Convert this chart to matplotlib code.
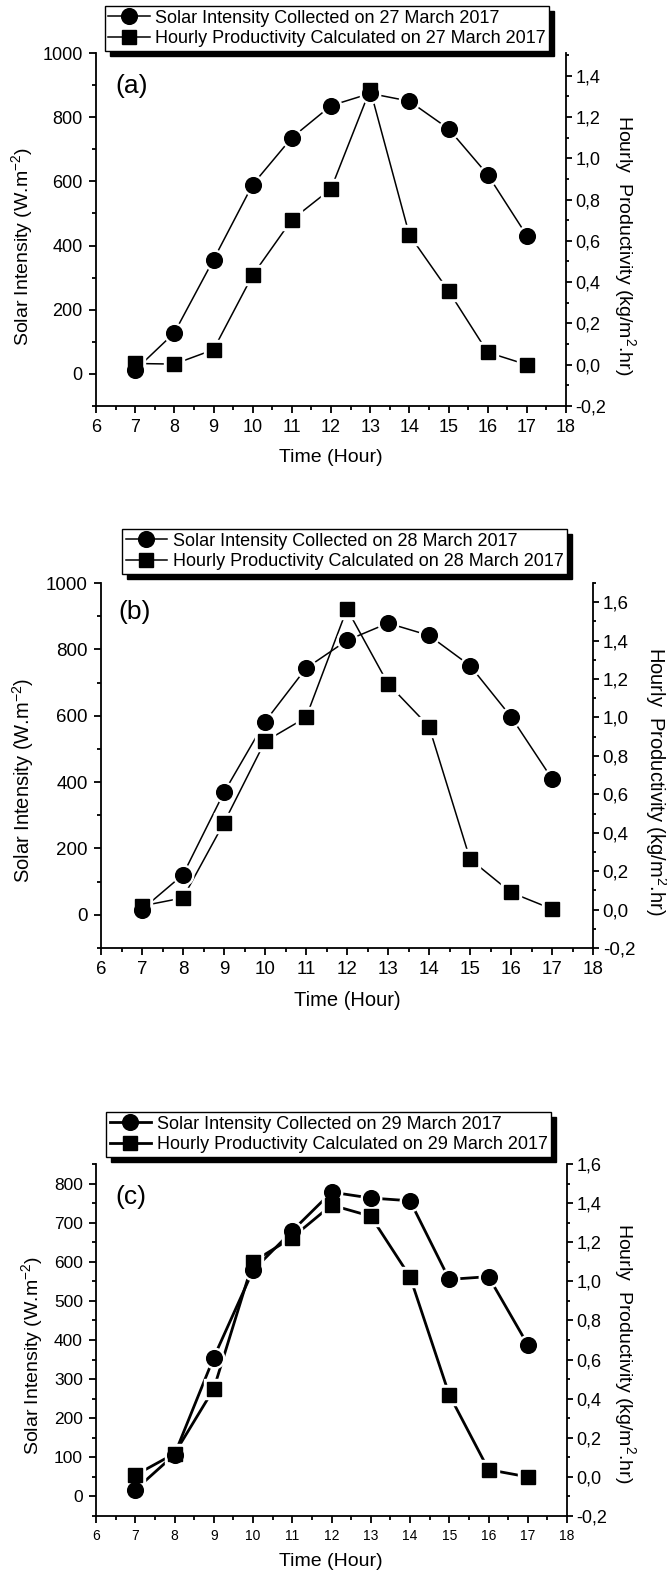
import matplotlib
matplotlib.use('Agg')
import matplotlib.pyplot as plt
from matplotlib.lines import Line2D
from matplotlib.ticker import MultipleLocator, FixedLocator, FuncFormatter

plt.rcParams['font.family'] = ['Liberation Sans', 'DejaVu Sans']
plt.rcParams['mathtext.fontset'] = 'custom'
plt.rcParams['mathtext.rm'] = 'Liberation Sans'
plt.rcParams['mathtext.it'] = 'Liberation Sans:italic'
plt.rcParams['mathtext.bf'] = 'Liberation Sans:bold'

# ---------------- data ----------------
hours = [7, 8, 9, 10, 11, 12, 13, 14, 15, 16, 17]

solar_a = [12, 128, 356, 590, 736, 836, 874, 850, 764, 621, 431]
prod_a = [0.006, 0.003, 0.073, 0.434, 0.702, 0.852, 1.333, 0.629, 0.358, 0.060, 0.0]

solar_b = [16, 121, 369, 582, 743, 827, 879, 842, 751, 597, 410]
prod_b = [0.019, 0.061, 0.452, 0.875, 1.0, 1.565, 1.176, 0.953, 0.263, 0.089, 0.003]

solar_c = [17, 107, 355, 578, 679, 778, 763, 756, 555, 562, 388]
prod_c = [0.009, 0.119, 0.45, 1.10, 1.224, 1.39, 1.333, 1.024, 0.42, 0.037, 0.0]

dates = ['27 March 2017', '28 March 2017', '29 March 2017']
letters = ['(a)', '(b)', '(c)']
x_ticks = [6, 7, 8, 9, 10, 11, 12, 13, 14, 15, 16, 17, 18]
left_ticks_ab = [0, 200, 400, 600, 800, 1000]
left_ticks_c = [0, 100, 200, 300, 400, 500, 600, 700, 800]
right_ticks_a = [-0.2, 0.0, 0.2, 0.4, 0.6, 0.8, 1.0, 1.2, 1.4]
right_ticks_bc = [-0.2, 0.0, 0.2, 0.4, 0.6, 0.8, 1.0, 1.2, 1.4, 1.6]

x_label = 'Time (Hour)'
y_label = 'Solar Intensity (W.m$^{-2}$)'
y2_label = 'Hourly  Productivity (kg/m$^{2}$.hr)'

# ---------------- layout ----------------
W, H = 667, 1571
fig = plt.figure(figsize=(W / 100, H / 100), dpi=100)


def fx(x):
    return x / W


def fy(y):
    return 1 - y / H


panels = [
    dict(solar=solar_a, prod=prod_a, date=dates[0], letter=letters[0],
         box=(96, 566, 53, 406), ylim=(-100, 1000), yticks=left_ticks_ab, yminor=100,
         y2lim=(-0.2, 1.51), y2ticks=right_ticks_a, lw=1.1, xfs=13, yfs=13, y2fs=13,
         leg=(327, 28.5), xlab=(331, 458), ylab=(22, 246), y2lab=(625, 245),
         letpos=(115, 86), labfs=14),
    dict(solar=solar_b, prod=prod_b, date=dates[1], letter=letters[1],
         box=(101, 593, 583, 948), ylim=(-100, 1000), yticks=left_ticks_ab, yminor=100,
         y2lim=(-0.2, 1.70), y2ticks=right_ticks_bc, lw=1.1, xfs=13.5, yfs=13.5, y2fs=13.5,
         leg=(344.5, 551.5), xlab=(347, 1001), ylab=(23, 780), y2lab=(656, 781),
         letpos=(118, 612), labfs=14.5),
    dict(solar=solar_c, prod=prod_c, date=dates[2], letter=letters[2],
         box=(96, 567, 1164, 1516), ylim=(-50, 850), yticks=left_ticks_c, yminor=50,
         y2lim=(-0.2, 1.6), y2ticks=right_ticks_bc, lw=2.0, xfs=10, yfs=12.5, y2fs=13,
         leg=(328.5, 1134.5), xlab=(331, 1562), ylab=(32, 1355), y2lab=(625, 1353),
         letpos=(115, 1197), labfs=14),
]


def comma_fmt(v, pos):
    s = '{:.1f}'.format(v).replace('.', ',')
    if s.startswith('-0,0'):
        s = '0,0'
    return s


for p in panels:
    l, r, t, b = p['box']
    ax = fig.add_axes([fx(l), fy(b), (r - l) / W, (b - t) / H])
    ax2 = ax.twinx()
    ax.set_xlim(6, 18)
    ax.set_ylim(*p['ylim'])
    ax2.set_ylim(*p['y2lim'])

    lw = p['lw']
    circ_ms, sq_ms, gap = 11.3, 10.3, 3.4
    # lines
    ax.plot(hours, p['solar'], '-', color='k', lw=lw, zorder=1, clip_on=False)
    ax.plot(hours, p['prod'], '-', color='k', lw=lw, zorder=1, clip_on=False,
            transform=ax2.transData)
    # white halos (gap between line and symbol)
    ax.plot(hours, p['prod'], 's', ms=sq_ms + gap, color='white', zorder=2,
            linestyle='none', clip_on=False, transform=ax2.transData)
    ax.plot(hours, p['solar'], 'o', ms=circ_ms + gap, color='white', zorder=2,
            linestyle='none', clip_on=False)
    # symbols
    ax.plot(hours, p['prod'], 's', ms=sq_ms, color='k', zorder=3,
            linestyle='none', clip_on=False, transform=ax2.transData)
    ax.plot(hours, p['solar'], 'o', ms=circ_ms, color='k', zorder=4,
            linestyle='none', clip_on=False)
    ax.set_xlim(6, 18)
    ax.set_ylim(*p['ylim'])
    ax2.set_ylim(*p['y2lim'])

    # spines
    for a in (ax, ax2):
        a.spines['top'].set_visible(False)
        for s in ('left', 'right', 'bottom'):
            a.spines[s].set_linewidth(1.3)
    ax.spines['right'].set_visible(False)
    ax2.spines['left'].set_visible(False)
    ax2.spines['bottom'].set_visible(False)

    # ticks
    ax.xaxis.set_major_locator(FixedLocator(x_ticks))
    ax.xaxis.set_minor_locator(MultipleLocator(0.5))
    ax.yaxis.set_major_locator(FixedLocator(p['yticks']))
    ax.yaxis.set_minor_locator(MultipleLocator(p['yminor']))
    ax2.yaxis.set_major_locator(FixedLocator(p['y2ticks']))
    ax2.yaxis.set_minor_locator(MultipleLocator(0.1))
    ax2.yaxis.set_major_formatter(FuncFormatter(comma_fmt))

    ax.tick_params(axis='x', which='major', direction='out', length=5, width=1.3,
                   labelsize=p['xfs'], pad=4)
    ax.tick_params(axis='y', which='major', direction='out', length=5, width=1.3,
                   labelsize=p['yfs'], pad=4.5)
    ax.tick_params(which='minor', direction='out', length=2.6, width=1.3)
    ax.tick_params(axis='y', right=False)
    ax2.tick_params(axis='y', which='major', direction='out', length=4, width=1.3,
                    labelsize=p['y2fs'], pad=3)
    ax2.tick_params(axis='y', which='minor', direction='out', length=2.4, width=1.3)

    # axis labels
    fig.text(fx(p['xlab'][0]), fy(p['xlab'][1]), x_label, ha='center', va='center',
             fontsize=p['labfs'])
    fig.text(fx(p['ylab'][0]), fy(p['ylab'][1]), y_label, ha='center', va='center',
             rotation=90, fontsize=p['labfs'])
    fig.text(fx(p['y2lab'][0]), fy(p['y2lab'][1]), y2_label, ha='center', va='center',
             rotation=270, fontsize=p['labfs'])

    # panel letter
    fig.text(fx(p['letpos'][0]), fy(p['letpos'][1]), p['letter'], ha='left', va='center',
             fontsize=19)

    # legend
    handles = [
        Line2D([], [], color='k', lw=lw, marker='o', ms=circ_ms),
        Line2D([], [], color='k', lw=lw, marker='s', ms=sq_ms),
    ]
    labels = ['Solar Intensity Collected on ' + p['date'],
              'Hourly Productivity Calculated on ' + p['date']]
    fig.legend(handles, labels, loc='center',
               bbox_to_anchor=(fx(p['leg'][0]), fy(p['leg'][1])),
               bbox_transform=fig.transFigure, fancybox=False, framealpha=1,
               edgecolor='black', fontsize=13, numpoints=1, handlelength=2.3,
               handletextpad=0.3, labelspacing=0.2, borderpad=0.2,
               borderaxespad=0,
               shadow={'ox': 3.6, 'oy': -3.6, 'color': 'black', 'alpha': 1})

fig.savefig('out.png', dpi=100)
